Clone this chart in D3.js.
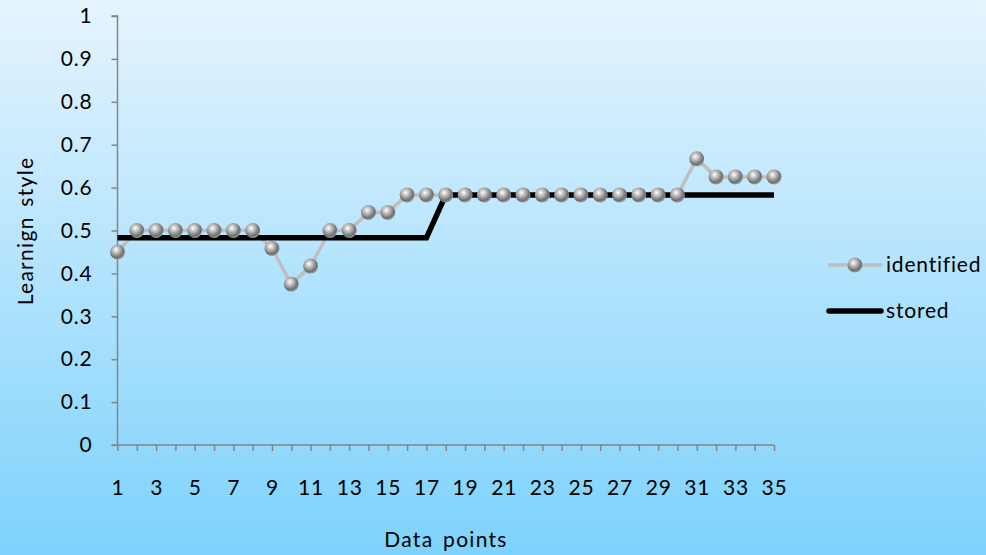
<!DOCTYPE html>
<html><head><meta charset="utf-8">
<script src="https://cdn.jsdelivr.net/npm/d3@7"></script>
<style>html,body{margin:0;padding:0;}svg{display:block;}</style>
</head><body>
<script>
const categories = d3.range(1, 36);
const identified = [0.45,0.5,0.5,0.5,0.5,0.5,0.5,0.5,0.458,0.375,0.417,0.5,0.5,0.542,0.542,0.583,0.583,
  0.583,0.583,0.583,0.583,0.583,0.583,0.583,0.583,0.583,0.583,0.583,0.583,0.583,0.667,0.625,0.625,0.625,0.625];
const stored = [0.483,0.483,0.483,0.483,0.483,0.483,0.483,0.483,0.483,0.483,0.483,0.483,0.483,0.483,0.483,0.483,0.483,
  0.583,0.583,0.583,0.583,0.583,0.583,0.583,0.583,0.583,0.583,0.583,0.583,0.583,0.583,0.583,0.583,0.583,0.583];
const yTicks = [0,0.1,0.2,0.3,0.4,0.5,0.6,0.7,0.8,0.9,1];

const W = 986, H = 555;
const font = "Lato, 'Open Sans', sans-serif";
const fs = "21px";
const svg = d3.select("body").append("svg").attr("width", W).attr("height", H);
const defs = svg.append("defs");
const bg = defs.append("linearGradient").attr("id","bg").attr("x1",0).attr("y1",0).attr("x2",0).attr("y2",1);
bg.append("stop").attr("offset","0%").attr("stop-color","#e6f4fe");
bg.append("stop").attr("offset","100%").attr("stop-color","#7dd2fc");
const ball = defs.append("radialGradient").attr("id","ball").attr("cx","40%").attr("cy","35%").attr("r","65%");
ball.append("stop").attr("offset","0%").attr("stop-color","#ffffff");
ball.append("stop").attr("offset","35%").attr("stop-color","#bdbdbd");
ball.append("stop").attr("offset","80%").attr("stop-color","#6e6e6e");
ball.append("stop").attr("offset","100%").attr("stop-color","#9a9a9a");

svg.append("rect").attr("width",W).attr("height",H).attr("fill","url(#bg)");

const x = d3.scaleLinear().domain([1,35]).range([117.5,774]);
const y = d3.scaleLinear().domain([0,1]).range([445,16]);

// axes
const yAxis = svg.append("g").attr("transform","translate(117.5,0)")
  .call(d3.axisLeft(y).tickValues(yTicks).tickSize(6).tickPadding(19).tickFormat(d => d3.format("")(d)));
const xAxis = svg.append("g").attr("transform","translate(0,445)")
  .call(d3.axisBottom(x).tickValues(categories).tickSize(6).tickPadding(29).tickFormat(d => d % 2 === 1 ? d : ""));
[yAxis, xAxis].forEach(g => {
  g.select(".domain").attr("stroke","#868686").attr("stroke-width",1.5);
  g.selectAll(".tick line").attr("stroke","#868686").attr("stroke-width",1.5);
  g.selectAll(".tick text").attr("fill","#000").style("font-family",font).style("font-size",fs)
    .style("letter-spacing","0.8px");
});
yAxis.select(".domain").attr("d","M-6,445H0V16H-6");
xAxis.select(".domain").attr("d","M117.5,0H774");

// lines
const line = d3.line().x((d,i) => x(categories[i])).y(d => y(d));
svg.append("path").datum(identified).attr("d", line).attr("fill","none")
  .attr("stroke","#c0bfbd").attr("stroke-width",3.5).attr("stroke-linejoin","round");
svg.append("path").datum(stored).attr("d", line).attr("fill","none")
  .attr("stroke","#000").attr("stroke-width",5.5).attr("stroke-linejoin","miter");
svg.selectAll("circle.pt").data(identified).enter().append("circle").attr("class","pt")
  .attr("cx",(d,i) => x(categories[i])).attr("cy", d => y(d)).attr("r",7.5)
  .attr("fill","url(#ball)");

// legend
const lg = svg.append("g");
lg.append("line").attr("x1",828).attr("x2",882).attr("y1",265).attr("y2",265).attr("stroke","#c0bfbd").attr("stroke-width",3.5);
lg.append("circle").attr("cx",855).attr("cy",265).attr("r",7.5).attr("fill","url(#ball)");
lg.append("text").attr("x",886).attr("y",265).attr("dy","0.35em").text("identified")
  .style("font-family",font).style("font-size",fs).style("letter-spacing","0.8px");
lg.append("line").attr("x1",829).attr("x2",881).attr("y1",311).attr("y2",311).attr("stroke","#000").attr("stroke-width",5.5).attr("stroke-linecap","round");
lg.append("text").attr("x",886).attr("y",311).attr("dy","0.35em").text("stored")
  .style("font-family",font).style("font-size",fs).style("letter-spacing","0.8px");

// titles
svg.append("text").attr("transform","translate(33,231) rotate(-90)").attr("text-anchor","middle")
  .text("Learnign style").style("font-family",font).style("font-size",fs)
  .style("letter-spacing","1.3px").style("word-spacing","3px");
svg.append("text").attr("x",446).attr("y",547).attr("text-anchor","middle")
  .text("Data points").style("font-family",font).style("font-size",fs)
  .style("letter-spacing","1.3px").style("word-spacing","3px");
</script>
</body></html>
